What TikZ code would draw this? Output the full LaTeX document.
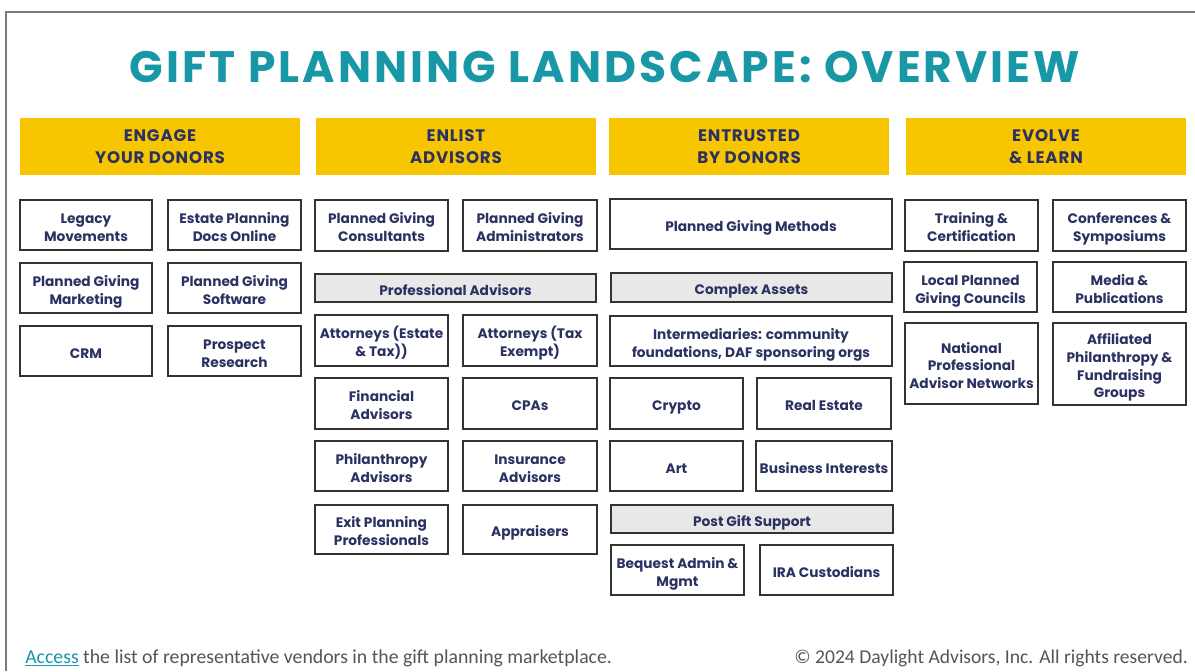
\documentclass[tikz,border=0pt]{standalone}
\usepackage{fontspec}
\setmainfont{Poppins}
\newfontfamily\footfont{Carlito}
\newfontfamily\titlefont[LetterSpace=7]{Poppins}
\newfontfamily\headfont[LetterSpace=5]{Poppins}
\definecolor{teal1}{HTML}{1897A6}
\definecolor{gold1}{HTML}{F8C600}
\definecolor{navy1}{HTML}{2B3262}
\definecolor{gray1}{HTML}{E8E8E8}
\definecolor{edge1}{HTML}{333333}
\definecolor{frame1}{HTML}{7A7A7A}
\definecolor{foot1}{HTML}{555555}
\newcommand\mybox[7]{\node[#1, minimum width={(#5-#3)*0.75pt}, minimum height={(#6-#4)*0.75pt}] (#2) at ({(#3+#5)/2},{(#4+#6)/2}) {\rule{0pt}{14.8pt}#7\rule[-4pt]{0pt}{0pt}};}
\newcommand\myhead[7]{\node[#1, minimum width={(#5-#3)*0.75pt}, minimum height={(#6-#4)*0.75pt}] (#2) at ({(#3+#5)/2},{(#4+#6)/2}) {\rule{0pt}{14.6pt}#7\rule[-5pt]{0pt}{0pt}};}
\tikzset{
  cell/.style={draw=edge1, line width=0.9pt, fill=white, inner sep=0pt, outer sep=0pt, align=center,
    font=\fontsize{10.3}{13.2}\selectfont\bfseries, text=navy1},
  band/.style={cell, fill=gray1},
  head/.style={fill=gold1, inner sep=0pt, outer sep=0pt, align=center,
    font=\headfont\fontsize{12.5}{16.5}\selectfont\bfseries, text=navy1},
}
\begin{document}
\begin{tikzpicture}[x=0.75pt,y=-0.75pt]
\useasboundingbox (0,0) rectangle (1195,671);
\fill[white] (0,0) rectangle (1195,671);
\coordinate (fa) at (6,671);
\coordinate (fb) at (6,12);
\coordinate (fc) at (1195,12);
\draw[frame1, line width=1.1pt] (fa) -- (fb) -- (fc);
% title
\node[text=teal1, font=\titlefont\fontsize{33}{36}\selectfont\bfseries, inner sep=0pt] (title) at (605,67) {GIFT PLANNING LANDSCAPE: OVERVIEW};
% headers
\myhead{head}{h1}{20}{118}{300}{175}{ENGAGE\\YOUR DONORS}
\myhead{head}{h2}{316}{118}{596}{175}{ENLIST\\ADVISORS}
\myhead{head}{h3}{609}{118}{889}{175}{ENTRUSTED\\BY DONORS}
\myhead{head}{h4}{906}{118}{1186}{175}{EVOLVE\\\& LEARN}
% column 1
\mybox{cell}{c1a}{20}{200}{152}{250}{Legacy\\Movements}
\mybox{cell}{c1b}{168}{200}{301}{250}{Estate Planning\\Docs Online}
\mybox{cell}{c1c}{20}{263}{152}{313}{Planned Giving\\Marketing}
\mybox{cell}{c1d}{168}{263}{301}{313}{Planned Giving\\Software}
\mybox{cell}{c1e}{20}{326}{152}{376}{CRM}
\mybox{cell}{c1f}{168}{326}{301}{376}{Prospect\\Research}
% column 2
\mybox{cell}{c2a}{315}{200}{448}{251}{Planned Giving\\Consultants}
\mybox{cell}{c2b}{463}{200}{597}{251}{Planned Giving\\Administrators}
\mybox{band}{c2p}{315}{274}{596}{302}{Professional Advisors}
\mybox{cell}{c2c}{315}{315}{448}{366}{Attorneys (Estate\\\& Tax))}
\mybox{cell}{c2d}{463}{315}{597}{366}{Attorneys (Tax\\Exempt)}
\mybox{cell}{c2e}{315}{378}{448}{429}{Financial\\Advisors}
\mybox{cell}{c2f}{463}{378}{597}{429}{CPAs}
\mybox{cell}{c2g}{315}{441}{448}{491}{Philanthropy\\Advisors}
\mybox{cell}{c2h}{463}{441}{597}{491}{Insurance\\Advisors}
\mybox{cell}{c2i}{315}{505}{448}{554}{Exit Planning\\Professionals}
\mybox{cell}{c2j}{463}{505}{597}{554}{Appraisers}
% column 3
\mybox{cell}{c3a}{610}{199}{892}{249}{Planned Giving Methods}
\mybox{band}{c3p}{611}{273}{892}{302}{Complex Assets}
\mybox{cell}{c3b}{610}{316}{892}{366}{Intermediaries: community\\foundations, DAF sponsoring orgs}
\mybox{cell}{c3c}{610}{378}{743}{429}{Crypto}
\mybox{cell}{c3d}{757}{378}{891}{429}{Real Estate}
\mybox{cell}{c3e}{610}{441}{743}{491}{Art}
\mybox{cell}{c3f}{756}{441}{892}{491}{Business Interests}
\mybox{band}{c3q}{611}{505}{893}{533}{Post Gift Support}
\mybox{cell}{c3g}{611}{545}{744}{595}{Bequest Admin \&\\Mgmt}
\mybox{cell}{c3h}{760}{545}{893}{595}{IRA Custodians}
% column 4
\mybox{cell}{c4a}{905}{200}{1038}{251}{Training \&\\Certification}
\mybox{cell}{c4b}{1053}{200}{1186}{251}{Conferences \&\\Symposiums}
\mybox{cell}{c4c}{904}{262}{1037}{312}{Local Planned\\Giving Councils}
\mybox{cell}{c4d}{1053}{262}{1186}{312}{Media \&\\Publications}
\mybox{cell}{c4e}{905}{323}{1038}{404}{National\\Professional\\Advisor Networks}
\mybox{cell}{c4f}{1053}{323}{1186}{405}{Affiliated\\Philanthropy \&\\Fundraising\\Groups}
% footer
\node[anchor=west, inner sep=0pt, font=\footfont\fontsize{12.5}{14}\selectfont, text=foot1] (foot) at (25,658)
  {\resizebox{440pt}{!}{\textcolor{teal1}{\underline{Access}} the list of representative vendors in the gift planning marketplace.}};
\node[anchor=east, inner sep=0pt, font=\footfont\fontsize{12.5}{14}\selectfont, text=foot1] (copy) at (1188,658)
  {\resizebox{295pt}{!}{© 2024 Daylight Advisors, Inc. All rights reserved.}};
\end{tikzpicture}
\end{document}
